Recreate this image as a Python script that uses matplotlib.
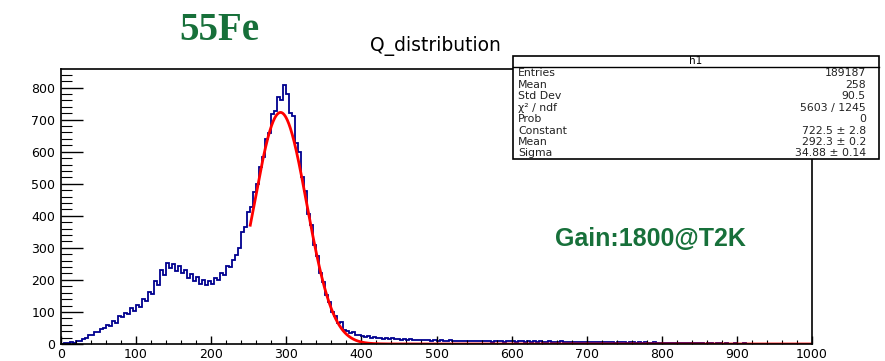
import numpy as np
import matplotlib.pyplot as plt
from matplotlib.ticker import MultipleLocator

# Q histogram, 4-unit bins from 0 to 1000
bin_width = 4
q_min, q_max = 0, 1000
counts = [
    # 0 - 100
    0, 2, 3, 5, 4, 10, 9, 17, 19, 27, 29, 38, 36, 48, 49, 60, 55, 71, 66, 86, 83, 98, 95, 112, 104,
    # 100 - 200
    122, 117, 141, 133, 162, 155, 196, 184, 231, 216, 252, 236, 251, 229, 244, 221, 231, 207, 219, 198, 209, 188, 199, 184, 198,
    # 200 - 300
    188, 207, 199, 221, 216, 244, 241, 262, 279, 301, 348, 366, 413, 428, 474, 498, 553, 582, 641, 659, 718, 727, 771, 762, 808,
    # 300 - 400
    781, 722, 712, 628, 598, 521, 477, 406, 371, 309, 276, 221, 194, 152, 131, 100, 87, 64, 70, 44, 42, 33, 36, 27, 28,
    # 400 - 500
    24, 23, 25, 20, 22, 19, 20, 17, 19, 16, 18, 15, 17, 14, 16, 13, 15, 12, 14, 12, 13, 11, 12, 10, 12,
    # 500 - 600
    10, 11, 9, 10, 11, 9, 10, 8, 10, 9, 8, 10, 9, 8, 9, 10, 8, 9, 7, 9, 8, 9, 7, 8, 8,
    # 600 - 700
    8, 7, 8, 9, 7, 8, 6, 8, 7, 8, 7, 6, 8, 7, 6, 7, 8, 6, 7, 6, 7, 5, 7, 6, 6,
    # 700 - 800
    6, 7, 5, 6, 6, 5, 6, 5, 6, 4, 5, 6, 5, 4, 5, 5, 4, 5, 4, 5, 4, 4, 5, 3, 4,
    # 800 - 900
    4, 3, 4, 3, 2, 3, 3, 2, 3, 2, 2, 3, 2, 2, 1, 2, 2, 1, 2, 2, 1, 2, 1, 1, 2,
    # 900 - 1000
    1, 1, 2, 1, 1, 0, 1, 1, 1, 0, 1, 1, 0, 1, 1, 0, 1, 0, 1, 1, 0, 1, 0, 1, 0,
]

# gaussian fit result
fit_constant = 722.5
fit_mean = 292.3
fit_sigma = 34.88
fit_range = (252, 1000)

stat_labels = ["Entries", "Mean", "Std Dev", "\u03c7\u00b2 / ndf", "Prob", "Constant", "Mean", "Sigma"]
stat_values = ["189187", "258", "90.5", "5603 / 1245", "0",
               "722.5 \u00b1 2.8", "292.3 \u00b1 0.2", "34.88 \u00b1 0.14"]

W, H = 885, 361
fig = plt.figure(figsize=(W / 100, H / 100), dpi=100)
plt.rcParams['font.family'] = ['DejaVu Sans']

ax = fig.add_axes([61 / W, 1 - 344 / H, (812 - 61) / W, (344 - 69) / H])

edges = np.arange(q_min, q_max + bin_width, bin_width)
ax.stairs(counts, edges, color='#00008f', lw=1.3)

xf = np.linspace(fit_range[0], fit_range[1], 1500)
yf = fit_constant * np.exp(-0.5 * ((xf - fit_mean) / fit_sigma) ** 2)
ax.plot(xf, yf, color='#ff0000', lw=2)

ax.set_xlim(0, 1000)
ax.set_ylim(0, 858)
ax.xaxis.set_major_locator(MultipleLocator(100))
ax.xaxis.set_minor_locator(MultipleLocator(20))
ax.yaxis.set_major_locator(MultipleLocator(100))
ax.yaxis.set_minor_locator(MultipleLocator(20))
ax.tick_params(axis='x', which='major', direction='in', length=6, width=1, labelsize=9, pad=3)
ax.tick_params(axis='x', which='minor', direction='in', length=3, width=0.8)
ax.tick_params(axis='y', which='major', direction='in', length=16, width=1, labelsize=9, pad=4)
ax.tick_params(axis='y', which='minor', direction='in', length=8, width=0.8)
for s in ax.spines.values():
    s.set_linewidth(1.2)

fig.text(435 / W, 1 - 46 / H, "Q_distribution", ha='center', va='center', fontsize=13.5)

# stats box
bx0, bx1, by0, by1 = 513 / W, 879 / W, 1 - 159 / H, 1 - 56 / H
box = plt.Rectangle((bx0, by0), bx1 - bx0, by1 - by0, transform=fig.transFigure,
                    facecolor='white', edgecolor='black', lw=1.2, zorder=5)
fig.add_artist(box)
fig.add_artist(plt.Line2D([bx0, bx1], [1 - 67 / H] * 2, transform=fig.transFigure,
                          color='black', lw=1, zorder=6))
fig.text((bx0 + bx1) / 2, 1 - 61.5 / H, "h1", ha='center', va='center', fontsize=7.5, zorder=7)
for i, (lab, val) in enumerate(zip(stat_labels, stat_values)):
    y = 1 - (73.5 + i * 11.4) / H
    fig.text(518 / W, y, lab, ha='left', va='center', fontsize=7.8, color='#222222', zorder=7)
    fig.text(866 / W, y, val, ha='right', va='center', fontsize=7.8, color='#222222', zorder=7)

green = '#17703a'
fig.text(179 / W, 1 - 40 / H, "55Fe", ha='left', va='baseline', fontsize=28,
         fontweight='bold', color=green, family=['Liberation Serif', 'DejaVu Serif'])
fig.text(555 / W, 1 - 246 / H, "Gain:1800@T2K", ha='left', va='baseline', fontsize=18,
         fontweight='bold', color=green, family=['Liberation Sans', 'DejaVu Sans'])

fig.savefig('out.png', dpi=100)
